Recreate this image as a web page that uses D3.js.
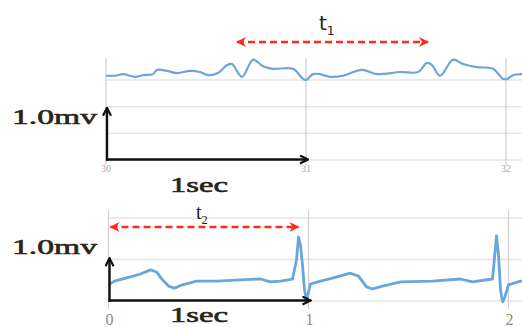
<!DOCTYPE html>
<html>
<head>
<meta charset="utf-8">
<script src="https://cdn.jsdelivr.net/npm/d3@7"></script>
<style>
  body { margin: 0; background: #fff; }
  svg { display: block; }
</style>
</head>
<body>
<svg id="chart" width="522" height="327"></svg>
<script>
// top trace: seconds 30..32
const topTime = [30.0, 30.045, 30.085, 30.145, 30.185, 30.235, 30.255, 30.305, 30.355, 30.42, 30.47, 30.51, 30.56, 30.605, 30.63, 30.68, 30.735, 30.785, 30.835, 30.935, 30.98, 31.0, 31.035, 31.07, 31.12, 31.185, 31.28, 31.355, 31.47, 31.56, 31.605, 31.63, 31.67, 31.735, 31.785, 31.855, 31.935, 31.985, 32.005, 32.035, 32.08];
const topMv = [1.58, 1.58, 1.61, 1.56, 1.59, 1.61, 1.69, 1.67, 1.63, 1.67, 1.65, 1.59, 1.63, 1.78, 1.80, 1.56, 1.88, 1.76, 1.71, 1.71, 1.54, 1.50, 1.61, 1.61, 1.56, 1.58, 1.69, 1.61, 1.65, 1.65, 1.82, 1.78, 1.58, 1.88, 1.80, 1.74, 1.71, 1.52, 1.52, 1.59, 1.61];
const topTicks = ["30", "31", "32"];

// bottom trace: seconds 0..2
const botTime = [0.0, 0.03, 0.11, 0.16, 0.21, 0.24, 0.27, 0.30, 0.33, 0.37, 0.44, 0.54, 0.66, 0.76, 0.81, 0.86, 0.92, 0.94, 0.95, 0.96, 0.97, 0.98, 0.99, 1.01, 1.06, 1.12, 1.21, 1.25, 1.29, 1.32, 1.37, 1.46, 1.62, 1.76, 1.82, 1.92, 1.93, 1.94, 1.95, 1.96, 1.97, 1.98, 2.0, 2.06, 2.07];
const botMv = [0.39, 0.48, 0.58, 0.65, 0.75, 0.70, 0.51, 0.36, 0.31, 0.39, 0.48, 0.48, 0.51, 0.53, 0.46, 0.48, 0.53, 0.99, 1.54, 1.35, 0.87, 0.27, 0.02, 0.41, 0.48, 0.55, 0.67, 0.60, 0.34, 0.29, 0.36, 0.46, 0.48, 0.53, 0.46, 0.53, 1.04, 1.57, 1.11, 0.27, -0.02, 0.07, 0.39, 0.48, 0.48];
const botTicks = ["0", "1", "2"];

// annotation spans (seconds)
const t1Span = [30.655, 31.61];
const t2Span = [0.01, 0.95];

const svg = d3.select('#chart');
svg.append('rect').attr('width', 522).attr('height', 327).attr('fill', '#fff');

const defs = svg.append('defs');
defs.append('marker').attr('id', 'blk')
  .attr('viewBox', '0 0 10 10').attr('refX', 9).attr('refY', 5)
  .attr('markerWidth', 10).attr('markerHeight', 10).attr('markerUnits', 'userSpaceOnUse')
  .attr('orient', 'auto')
  .append('path').attr('d', 'M1,1 L9,5 L1,9').attr('fill', 'none')
  .attr('stroke', '#111').attr('stroke-width', 2.2);
defs.append('marker').attr('id', 'red')
  .attr('viewBox', '0 0 12 12').attr('refX', 10).attr('refY', 6)
  .attr('markerWidth', 12).attr('markerHeight', 12).attr('markerUnits', 'userSpaceOnUse')
  .attr('orient', 'auto-start-reverse')
  .append('path').attr('d', 'M1,1 L11,6 L1,11 L4,6 Z').attr('fill', '#ff2a1a');

function panel(o) {
  const x = d3.scaleLinear().domain(o.xDom).range(o.xRange);
  const y = d3.scaleLinear().domain(o.yDom).range(o.yRange);
  const g = svg.append('g');

  // horizontal grid
  g.selectAll('.hg').data(o.grid).enter().append('line')
    .attr('x1', x(o.xDom[0]) - 1).attr('x2', 522)
    .attr('y1', d => y(d)).attr('y2', d => y(d))
    .attr('stroke', '#e4e4e4').attr('stroke-width', 1.3);
  // vertical grid
  g.selectAll('.vg').data(o.xTicks).enter().append('line')
    .attr('x1', d => x(d)).attr('x2', d => x(d))
    .attr('y1', o.top).attr('y2', o.gridBottom)
    .attr('stroke', '#cfcfcf').attr('stroke-width', 1.2);

  // tick labels
  g.selectAll('.tl').data(o.xTicks).enter().append('text')
    .attr('x', d => x(d) + o.tickDx).attr('y', o.tickY)
    .attr('text-anchor', 'middle')
    .attr('font-family', 'Liberation Serif, serif')
    .attr('font-size', o.tickSize).attr('fill', o.tickColor)
    .text((d, i) => o.tickLabels[i]);

  // trace
  const line = d3.line().x(d => x(d[0])).y(d => y(d[1])).curve(o.curve);
  g.append('path').datum(d3.zip(o.t, o.v))
    .attr('d', line).attr('fill', 'none')
    .attr('stroke', '#6aa6dc').attr('stroke-width', o.traceW)
    .attr('stroke-linejoin', 'round');

  // scale arrows
  g.append('line')
    .attr('x1', x(o.xDom[0])).attr('x2', x(o.xDom[0] + o.secLen))
    .attr('y1', y(0) - 0.5).attr('y2', y(0) - 0.5)
    .attr('stroke', '#111').attr('stroke-width', 2.4).attr('marker-end', 'url(#blk)');
  g.append('line')
    .attr('x1', x(o.xDom[0]) + 1).attr('x2', x(o.xDom[0]) + 1)
    .attr('y1', y(0) + 0.8).attr('y2', y(o.mvLen))
    .attr('stroke', '#111').attr('stroke-width', 2.4).attr('marker-end', 'url(#blk)');

  // red span arrow
  g.append('line')
    .attr('x1', x(o.span[0])).attr('x2', x(o.span[1]))
    .attr('y1', o.spanY).attr('y2', o.spanY)
    .attr('stroke', '#ff2a1a').attr('stroke-width', 2.6)
    .attr('stroke-dasharray', '7,4')
    .attr('marker-start', 'url(#red)').attr('marker-end', 'url(#red)');

  // labels
  const serif = 'Liberation Serif, Times New Roman, serif';
  g.append('text').attr('x', 12).attr('y', o.mvY)
    .attr('font-family', serif).attr('font-size', 21)
    .attr('fill', '#2a2418').attr('stroke', '#2a2418').attr('stroke-width', 0.6)
    .attr('textLength', 85).attr('lengthAdjust', 'spacingAndGlyphs')
    .text('1.0mv');
  g.append('text').attr('x', 170).attr('y', o.secY)
    .attr('font-family', serif).attr('font-size', 21)
    .attr('fill', '#2a2418').attr('stroke', '#2a2418').attr('stroke-width', 0.6)
    .attr('textLength', 58).attr('lengthAdjust', 'spacingAndGlyphs')
    .text('1sec');

  const tl = g.append('text').attr('x', o.tX).attr('y', o.tY)
    .attr('font-family', o.tFont).attr('font-size', o.tSize).attr('fill', '#222');
  tl.append('tspan').text('t');
  tl.append('tspan').attr('dy', 5).attr('font-size', o.tSize * 0.62).text(o.tSub);
}

panel({
  xDom: [30, 32], xRange: [106, 506],
  yDom: [0, 1.5], yRange: [160, 80],
  grid: [0, 0.5, 1.0, 1.5], xTicks: [30, 31, 32], tickLabels: topTicks,
  top: 58, gridBottom: 165, tickY: 172, tickDx: 0, tickSize: 10, tickColor: '#aaaaaa',
  t: topTime, v: topMv, curve: d3.curveCatmullRom.alpha(0.5), traceW: 2.2,
  secLen: 1.01, mvLen: 0.98,
  span: t1Span, spanY: 42,
  mvY: 124, secY: 192,
  tX: 319, tY: 30, tFont: 'DejaVu Sans, sans-serif', tSize: 20, tSub: '1'
});

panel({
  xDom: [0, 2], xRange: [108.5, 508.5],
  yDom: [0, 2], yRange: [301, 218],
  grid: [0, 1, 2], xTicks: [0, 1, 2], tickLabels: botTicks,
  top: 210, gridBottom: 309, tickY: 325, tickDx: 1, tickSize: 16, tickColor: '#8a8a8a',
  t: botTime, v: botMv, curve: d3.curveLinear, traceW: 2.8,
  secLen: 1.01, mvLen: 1.03,
  span: t2Span, spanY: 227,
  mvY: 254, secY: 322,
  tX: 196, tY: 219, tFont: 'Liberation Serif, serif', tSize: 20, tSub: '2'
});
</script>
</body>
</html>
